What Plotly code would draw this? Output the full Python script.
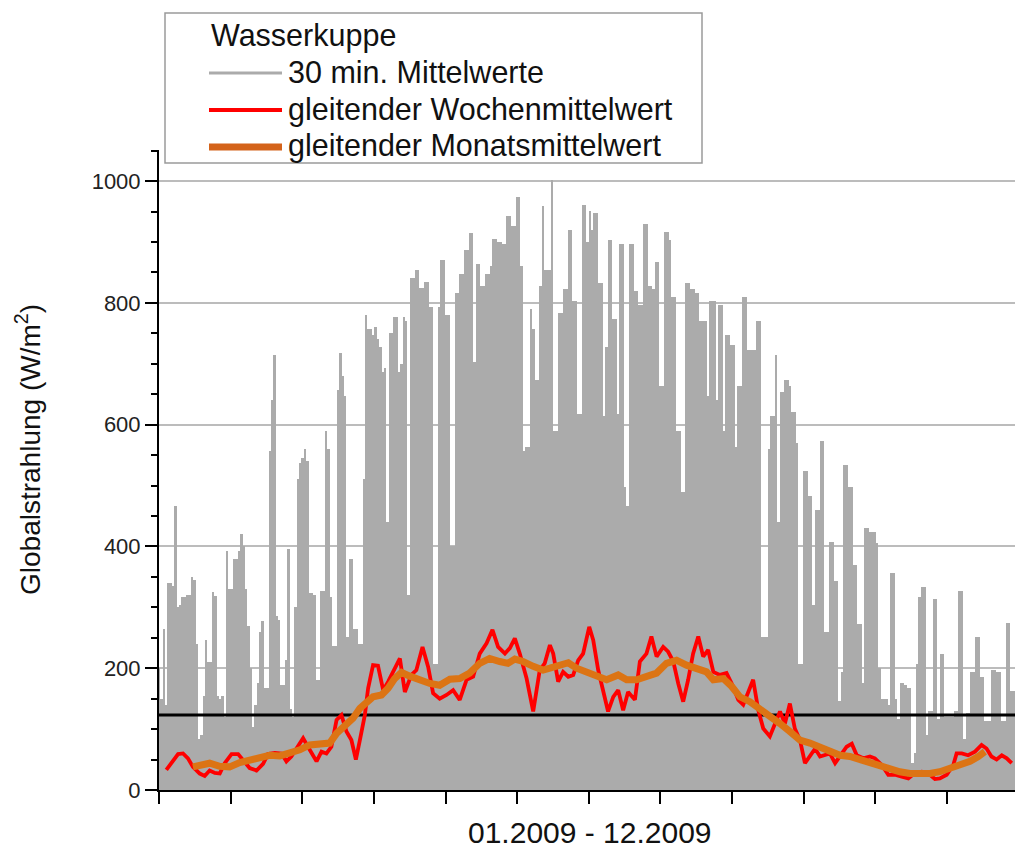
import plotly.graph_objects as go

# ---------------- data ----------------
days = list(range(364))
daily_peak = [
    200, 150, 265, 140, 340, 340, 335, 467, 300, 304,
    317, 317, 320, 320, 350, 345, 240, 84, 90, 155,
    246, 210, 210, 325, 318, 155, 150, 155, 120, 392,
    330, 330, 379, 379, 392, 421, 400, 330, 269, 200,
    104, 140, 175, 260, 278, 168, 168, 557, 640, 715,
    286, 280, 172, 172, 214, 395, 133, 120, 300, 511,
    537, 545, 560, 540, 324, 324, 320, 181, 181, 327,
    327, 589, 560, 317, 236, 236, 657, 718, 680, 647,
    252, 379, 379, 265, 265, 240, 240, 511, 780, 757,
    757, 748, 760, 740, 728, 686, 693, 440, 751, 751,
    777, 777, 686, 700, 777, 770, 320, 841, 841, 854,
    854, 825, 825, 835, 835, 793, 793, 207, 207, 793,
    870, 870, 780, 780, 401, 401, 816, 816, 848, 848,
    887, 887, 914, 914, 703, 864, 864, 828, 828, 847,
    847, 861, 905, 905, 900, 900, 896, 896, 942, 942,
    926, 926, 974, 974, 861, 557, 563, 563, 790, 757,
    673, 673, 828, 959, 854, 854, 854, 1002, 589, 589,
    783, 783, 822, 822, 919, 919, 803, 803, 618, 618,
    961, 961, 900, 951, 919, 948, 948, 832, 832, 615,
    728, 903, 903, 773, 773, 618, 896, 896, 498, 466,
    896, 896, 819, 819, 796, 796, 929, 929, 828, 828,
    822, 867, 867, 663, 663, 916, 916, 903, 809, 809,
    589, 589, 489, 489, 832, 832, 822, 822, 816, 816,
    770, 770, 770, 647, 803, 803, 803, 641, 796, 796,
    589, 748, 748, 731, 731, 563, 663, 663, 809, 809,
    722, 722, 722, 722, 770, 770, 252, 252, 252, 560,
    615, 615, 715, 440, 654, 654, 673, 673, 663, 621,
    621, 570, 207, 207, 524, 524, 482, 482, 304, 460,
    460, 573, 573, 259, 259, 408, 408, 343, 343, 146,
    194, 534, 534, 498, 498, 369, 369, 272, 272, 175,
    430, 430, 424, 424, 424, 405, 200, 149, 149, 149,
    140, 356, 356, 149, 117, 175, 175, 172, 168, 168,
    45, 60, 207, 317, 333, 333, 91, 130, 130, 314,
    314, 117, 223, 223, 120, 120, 120, 120, 130, 130,
    327, 327, 84, 126, 126, 194, 194, 252, 252, 185,
    185, 113, 113, 113, 197, 197, 194, 194, 113, 113,
    275, 275, 162, 162,
]

week_day = [
    3.1, 5.3, 8.1, 10.2, 12.3, 14.4, 17.3, 19.4, 21.5, 23.7, 25.8, 27.9, 30.8, 33.6,
    35.7, 38.5, 41.4, 44.2, 46.3, 49.2, 52.0, 54.1, 56.2, 59.1, 61.2, 64.0, 66.9, 69.0,
    71.1, 73.2, 75.4, 77.5, 79.6, 81.7, 83.6, 85.3, 87.4, 88.8, 90.9, 93.0, 95.2, 97.3,
    99.4, 102.3, 104.4, 107.2, 109.3, 111.9, 114.3, 116.4, 119.2, 122.1, 124.9, 127.7,
    130.6, 133.4, 136.2, 139.1, 141.6, 144.0, 146.9, 149.0, 151.1, 153.2, 156.1, 158.9,
    161.7, 163.8, 166.0, 167.4, 169.5, 171.6, 173.8, 175.9, 178.0, 180.1, 182.7, 184.4,
    186.5, 188.6, 190.7, 192.9, 195.0, 197.1, 199.2, 202.1, 204.2, 207.0, 209.1, 211.3,
    214.1, 216.2, 218.4, 220.5, 222.6, 224.7, 226.8, 229.0, 231.1, 233.2, 235.4, 238.2,
    241.0, 243.2, 246.0, 248.1, 250.2, 252.3, 254.5, 256.6, 259.4, 261.5, 263.7, 265.8,
    267.9, 270.0, 272.2, 274.3, 276.4, 278.6, 280.7, 282.8, 284.9, 287.1, 289.2, 292.0,
    294.2, 296.3, 299.1, 301.9, 304.0, 306.9, 309.7, 312.5, 315.4, 318.2, 321.0, 323.9,
    326.7, 329.5, 331.6, 334.5, 337.3, 338.7, 340.9, 343.6, 346.5, 349.3, 351.4, 353.5,
    355.7, 357.9, 360.0, 362.1,
]
week_mean = [
    33, 44, 59, 60, 52, 38, 27, 23, 32, 28, 27, 44, 59, 59,
    50, 36, 32, 43, 59, 61, 60, 47, 55, 71, 85, 66, 47, 63,
    60, 71, 115, 123, 96, 82, 50, 82, 123, 167, 205, 204, 164, 178,
    194, 216, 161, 189, 197, 235, 202, 159, 150, 156, 164, 148,
    181, 186, 224, 241, 263, 235, 224, 233, 249, 224, 183, 129,
    197, 208, 238, 224, 178, 194, 186, 189, 213, 224, 268, 246,
    197, 164, 129, 153, 164, 131, 161, 148, 211, 224, 252, 219,
    235, 227, 211, 175, 145, 181, 224, 252, 219, 230, 194, 189,
    192, 175, 148, 140, 161, 181, 131, 101, 88, 107, 129, 109,
    142, 101, 82, 44, 55, 68, 55, 57, 60, 44, 55, 71,
    76, 57, 52, 55, 52, 41, 25, 25, 22, 19, 28, 30,
    27, 18, 19, 25, 41, 60, 60, 57, 63, 74, 68, 55,
    50, 57, 52, 44,
]

month_day = [
    14.4, 17.3, 21.5, 25.8, 30.0, 34.3, 38.5, 42.8, 47.0, 51.3, 55.5, 59.8, 64.0, 68.3,
    72.5, 75.4, 78.9, 82.4, 85.3, 88.1, 90.9, 94.5, 97.3, 100.1, 103.0, 106.5, 110.7,
    115.0, 119.2, 123.5, 127.7, 131.9, 136.2, 140.4, 144.7, 148.2, 151.1, 154.6, 158.9,
    163.1, 166.0, 170.2, 173.8, 177.3, 181.6, 185.8, 190.1, 195.0, 198.6, 202.8, 207.0,
    211.3, 215.5, 219.8, 224.0, 228.3, 232.5, 235.4, 239.6, 243.2, 246.7, 250.9, 255.2,
    259.4, 263.7, 267.9, 272.2, 276.4, 280.7, 284.9, 289.2, 293.4, 297.6, 301.9, 306.1,
    310.4, 314.6, 318.9, 323.1, 327.4, 331.6, 335.9, 340.1, 344.4, 347.9, 350.7,
]
month_mean = [
    38, 41, 44, 39, 38, 45, 48, 52, 57, 56, 60, 66, 74, 76,
    77, 93, 104, 118, 134, 145, 153, 156, 167, 183, 193, 187, 181,
    175, 172, 182, 183, 192, 208, 216, 211, 208, 215, 211, 203,
    197, 200, 205, 209, 200, 194, 189, 181, 189, 181, 181, 185,
    192, 208, 213, 205, 200, 194, 181, 183, 170, 153, 145, 134,
    120, 109, 96, 82, 77, 71, 63, 57, 55, 50, 47, 41,
    34, 30, 27, 26, 27, 30, 36, 41, 47, 55, 63,
]

annual_mean = 123

legend_title = "Wasserkuppe"
series_names = ["30 min. Mittelwerte", "gleitender Wochenmittelwert", "gleitender Monatsmittelwert"]
y_ticks = [0, 200, 400, 600, 800, 1000]
x_title = "01.2009 - 12.2009"
y_title = "Globalstrahlung (W/m<sup>2</sup>)"

# ---------------- styling ----------------
W, H = 1015, 849
ML, MR, MT, MB = 159, 0, 150, 59
XR = [0, 363.5]
YR = [0, 1051]
GRAY = "#ababab"
RED = "#ff0000"
ORANGE = "#dc7414"
FONT = "Liberation Sans, Arial, sans-serif"


def px(xp):
    return (xp - ML) / (W - ML - MR)


def py(yp):
    return (H - MB - yp) / (H - MT - MB)


fig = go.Figure()
fig.add_trace(go.Bar(x=days, y=daily_peak, marker=dict(color=GRAY, line=dict(width=0)),
                     name=series_names[0], showlegend=False))
fig.add_trace(go.Scatter(x=XR, y=[annual_mean, annual_mean], mode="lines",
                         line=dict(color="black", width=3), showlegend=False))
fig.add_trace(go.Scatter(x=week_day, y=week_mean, mode="lines",
                         line=dict(color=RED, width=3.8), name=series_names[1], showlegend=False))
fig.add_trace(go.Scatter(x=month_day, y=month_mean, mode="lines",
                         line=dict(color=ORANGE, width=7), name=series_names[2], showlegend=False))

shapes = []
annotations = []
# legend box
shapes.append(dict(type="rect", xref="paper", yref="paper", x0=px(165), x1=px(702), y0=py(163), y1=py(13),
                   line=dict(color="#9a9a9a", width=1.5), fillcolor="white", layer="above"))
annotations.append(dict(xref="paper", yref="paper", x=px(209), y=py(35), text=legend_title,
                        showarrow=False, xanchor="left", yanchor="middle",
                        font=dict(family=FONT, size=30.5, color="#111")))
leg_rows = [(73, GRAY, 3), (110, RED, 3.8), (147, "#d4631a", 7)]
for (yy, col, lw), name in zip(leg_rows, series_names):
    shapes.append(dict(type="line", xref="paper", yref="paper", x0=px(209), x1=px(282), y0=py(yy), y1=py(yy),
                       line=dict(color=col, width=lw), layer="above"))
    annotations.append(dict(xref="paper", yref="paper", x=px(286), y=py(yy - 1), text=name,
                            showarrow=False, xanchor="left", yanchor="middle",
                            font=dict(family=FONT, size=30.5, color="#111")))

annotations.append(dict(xref="paper", yref="paper", x=px(590), y=py(832), text=x_title, showarrow=False,
                        xanchor="center", yanchor="middle", font=dict(family=FONT, size=30, color="#111")))
annotations.append(dict(xref="paper", yref="paper", x=px(28), y=py(450), text=y_title, showarrow=False,
                        textangle=-90, xanchor="center", yanchor="middle",
                        font=dict(family=FONT, size=28, color="#111")))

fig.update_layout(
    width=W, height=H, autosize=False,
    margin=dict(l=ML, r=MR, t=MT, b=MB, pad=0),
    paper_bgcolor="white", plot_bgcolor="white",
    bargap=0, showlegend=False,
    shapes=shapes, annotations=annotations,
    font=dict(family=FONT),
)
fig.update_xaxes(range=XR, showgrid=False, zeroline=False, showticklabels=False,
                 tickmode="array", tickvals=[k * 365 / 12 for k in range(12)],
                 ticks="outside", ticklen=12, tickwidth=2, tickcolor="black",
                 showline=True, linecolor="black", linewidth=2)
fig.update_yaxes(range=YR, tickmode="array", tickvals=y_ticks, zeroline=False,
                 showgrid=True, gridcolor="#bcbcbc", gridwidth=1.5,
                 ticks="outside", ticklen=12, tickwidth=2, tickcolor="black",
                 showline=True, linecolor="black", linewidth=2,
                 tickfont=dict(family=FONT, size=22, color="#222"),
                 minor=dict(dtick=50, ticks="outside", ticklen=6, tickwidth=2, tickcolor="black", showgrid=False))

fig.write_html("out.html", config={"displayModeBar": False})

# remove the browser's default page margin so the figure sits at the window's top-left corner
with open("out.html", "r", encoding="utf-8") as f:
    html = f.read()
html = html.replace("<head>", "<head><style>html,body{margin:0;padding:0;overflow:hidden;}</style>", 1)
with open("out.html", "w", encoding="utf-8") as f:
    f.write(html)
